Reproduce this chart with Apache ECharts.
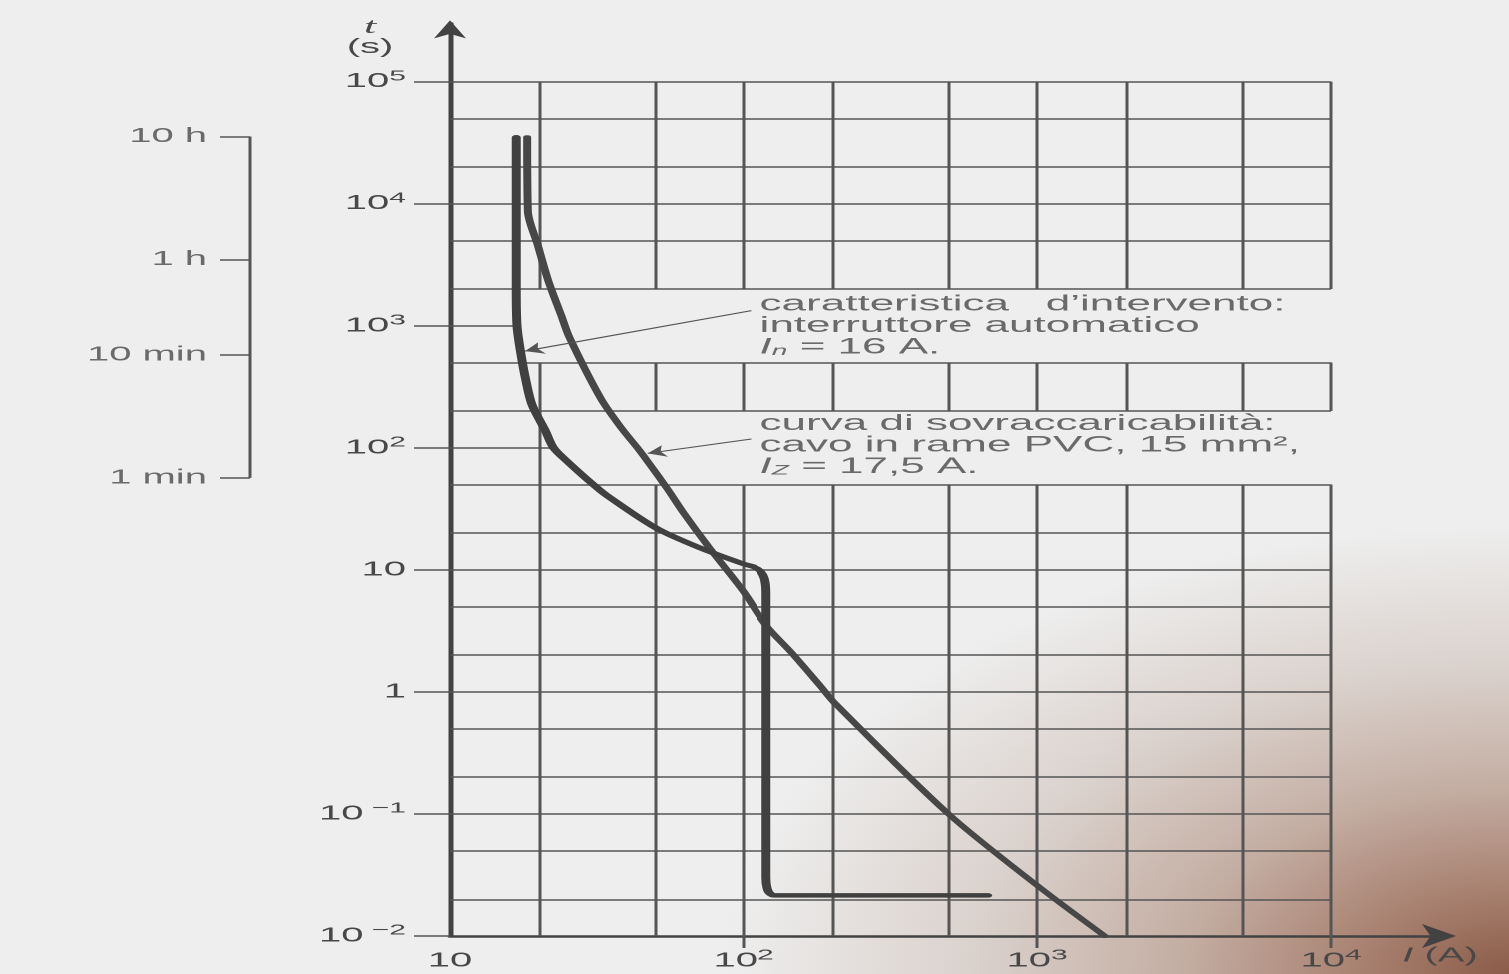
<!DOCTYPE html>
<html>
<head>
<meta charset="utf-8">
<script src="https://cdn.jsdelivr.net/npm/echarts@6/dist/echarts.min.js"></script>
<style>
html, body { margin: 0; padding: 0; width: 1509px; height: 974px; overflow: hidden;
  background: radial-gradient(ellipse 52% 46% at 100% 100%, #8a5c48 0%, #a77f6e 18%, #c4aea3 42%, #dad1cc 68%, rgba(236,236,236,0) 100%), #eeeeee; }
#c { width: 755px; height: 974px; transform: scaleX(1.99868); transform-origin: 0 0; }
</style>
</head>
<body>
<div id="c"></div>
<script>
// ---------- data ----------
const currentTicks = [10, 100, 1000, 10000];
const currentTickLabels = ['10', '10{u|2}', '10{u|3}', '10{u|4}'];
const timeTicks = [0.01, 0.1, 1, 10, 100, 1000, 10000, 100000];
const timeTickLabels = ['10{u| −2}', '10{u| −1}', '1', '10', '10{u|2}', '10{u|3}', '10{u|4}', '10{u|5}'];

const gridCurrents = [20, 50, 100, 200, 500, 1000, 2000, 5000, 10000];
const gridTimes = [0.02, 0.05, 0.1, 0.2, 0.5, 1, 2, 5, 10, 20, 50, 100, 200, 500, 1000, 2000, 5000, 10000, 20000, 50000, 100000];

// caratteristica d'intervento (interruttore automatico In = 16 A)
const breakerCurrent = [16.8, 16.8, 16.9, 17.4, 18.1, 19.0, 21.1, 22.5, 25.4, 30.7, 34, 50.4, 70.5, 99.4, 108, 114, 118, 119.5, 119.5, 120.5, 123, 128, 680];
const breakerTime    = [35000, 2000, 1000, 600, 360, 226, 138, 100, 75, 50, 41, 21.9, 15.2, 11.2, 10.6, 9.8, 8.5, 6.5, 0.03, 0.025, 0.0225, 0.0215, 0.0215];

// curva di sovraccaricabilità (cavo in rame PVC, Iz = 17,5 A)
const cableCurrent = [18.3, 18.4, 19.9, 21.6, 23.9, 25.5, 32.6, 38.3, 43.4, 47.1, 55.3, 61.9, 76.2, 100, 119, 146, 183, 205, 500, 1000, 1700];
const cableTime    = [35000, 8700, 4550, 2330, 1215, 800, 253, 145, 100, 77, 45, 30, 15.2, 6.6, 3.55, 2.1, 1.12, 0.81, 0.1, 0.026, 0.01];

// annotations: text anchors and pointer arrows (tail -> tip), in data units
const noteAnchors = [[113, 1000], [113, 105]];
const pointerTails = [[106, 1330], [106, 118]];
const pointerTips = [[18.0, 620], [47, 90]];

// secondary duration scale
const durationLabels = ['10 h', '1 h', '10 min', '1 min'];
const durationSeconds = [36000, 3600, 600, 60];

// text bands where the printed grid is interrupted
const upperBand = [500, 2000];
const lowerBand = [50, 200];
const upperBandLineEnd = 16.8;  // 1000 s line stops at breaker curve
const lowerBandLineEnd = 22.5;  // 100 s line stops at breaker curve

// ---------- build ----------
const FONT = '"Liberation Sans", Arial, sans-serif';
const INK = '#424242';
const TXT = '#484848';
const GRIDC = '#555555';

function labelFor(values, labels) {
  return function (v) {
    let best = 0;
    const lv = Math.log10(v);
    for (let i = 1; i < values.length; i++) {
      if (Math.abs(Math.log10(values[i]) - lv) < Math.abs(Math.log10(values[best]) - lv)) best = i;
    }
    return labels[best];
  };
}

const gridSegments = [];
gridCurrents.forEach(function (I) {
  const spans = I === 20
    ? [[0.01, upperBand[0]], [upperBand[1], 100000]]
    : [[0.01, lowerBand[0]], [lowerBand[1], upperBand[0]], [upperBand[1], 100000]];
  spans.forEach(function (s) { gridSegments.push({ coords: [[I, s[0]], [I, s[1]]] }); });
});
gridTimes.forEach(function (t) {
  const end = t === 1000 ? upperBandLineEnd : (t === 100 ? lowerBandLineEnd : 10000);
  gridSegments.push({ coords: [[10, t], [end, t]] });
});

const pointerSegments = pointerTails.map(function (tail, i) { return { coords: [tail, pointerTips[i]] }; });

const bracketSegments = [{ coords: [[1, durationSeconds[0]], [1, durationSeconds[durationSeconds.length - 1]]] }]
  .concat(durationSeconds.map(function (s) { return { coords: [[0.5, s], [1, s]] }; }));

const zip = (a, b) => a.map((v, i) => [v, b[i]]);

const noteTexts = [
  'caratteristica   d\u2019intervento:\ninterruttore automatico\n{i|I}{s|n}{p| = 16 A.}',
  'curva di sovraccaricabilità:\ncavo in rame PVC, 15 mm²,\n{i|I}{s|Z}{p| = 17,5 A.}'
];

const supRich = { u: { fontFamily: FONT, fontSize: 15, lineHeight: 14, verticalAlign: 'top', color: TXT } };

const chart = echarts.init(document.getElementById('c'), null, { renderer: 'canvas', devicePixelRatio: 2 });

const Y_TOP = 23.4, Y_BOTTOM = 32;

chart.setOption({
  backgroundColor: 'transparent',
  animation: false,
  textStyle: { fontFamily: FONT, color: TXT },
  grid: [
    { left: 225, right: 30.5, top: Y_TOP, bottom: Y_BOTTOM, containLabel: false },
    { left: 95, width: 30, top: Y_TOP, bottom: Y_BOTTOM, containLabel: false }
  ],
  xAxis: [
    {
      type: 'log', logBase: 10, min: 10, max: 25000, gridIndex: 0,
      name: '{i|I} (A)', nameLocation: 'end', nameGap: -4,
      nameTextStyle: { fontFamily: FONT, fontSize: 20, color: TXT, align: 'center', verticalAlign: 'middle',
        padding: [40, 0, 0, 0], rich: { i: { fontStyle: 'italic', fontSize: 20, fontFamily: FONT, color: TXT } } },
      axisLine: { show: true, lineStyle: { color: INK, width: 2.5 }, symbol: ['none', 'arrow'], symbolSize: [18, 17], symbolOffset: [0, 4] },
      axisTick: { show: true, inside: false, length: 12, lineStyle: { color: GRIDC, width: 1.5 }, customValues: [100, 1000, 10000] },
      axisLabel: { show: true, margin: 12, fontSize: 20, lineHeight: 26, color: TXT, fontFamily: FONT,
        customValues: currentTicks, formatter: labelFor(currentTicks, currentTickLabels), rich: supRich },
      splitLine: { show: false }, minorTick: { show: false }
    },
    { type: 'value', min: 0, max: 1, gridIndex: 1, show: false }
  ],
  yAxis: [
    {
      type: 'log', logBase: 10, min: 0.01, max: 300000, gridIndex: 0,
      name: '{t|t}\n(s)', nameLocation: 'end', nameGap: -14,
      nameTextStyle: { fontFamily: FONT, fontSize: 20, color: TXT, align: 'center', verticalAlign: 'middle',
        lineHeight: 20, padding: [0, 80, 0, 0],
        rich: { t: { fontStyle: 'italic', fontFamily: '"Liberation Serif", serif', fontSize: 22, color: TXT, lineHeight: 20 } } },
      axisLine: { show: true, lineStyle: { color: INK, width: 2.5 }, symbol: ['none', 'arrow'], symbolSize: [12, 18], symbolOffset: [0, 3] },
      axisTick: { show: true, inside: false, length: 18, lineStyle: { color: GRIDC, width: 1.5 }, customValues: timeTicks },
      axisLabel: { show: true, margin: 22, fontSize: 20, lineHeight: 26, color: TXT, fontFamily: FONT,
        customValues: timeTicks, formatter: labelFor(timeTicks, timeTickLabels), rich: supRich },
      splitLine: { show: false }, minorTick: { show: false }
    },
    { type: 'log', logBase: 10, min: 0.01, max: 300000, gridIndex: 1, show: false }
  ],
  series: [
    {
      name: 'griglia', type: 'lines', coordinateSystem: 'cartesian2d', xAxisIndex: 0, yAxisIndex: 0,
      silent: true, z: 1, data: gridSegments,
      lineStyle: { color: GRIDC, width: 1.5, opacity: 1, curveness: 0 }, symbol: ['none', 'none']
    },
    {
      name: 'frecce', type: 'lines', coordinateSystem: 'cartesian2d', xAxisIndex: 0, yAxisIndex: 0,
      silent: true, z: 4, data: pointerSegments,
      lineStyle: { color: '#555', width: 1.1, opacity: 1, curveness: 0 },
      symbol: ['none', 'arrow'], symbolSize: 9
    },
    {
      name: 'curva di sovraccaricabilità', type: 'line', xAxisIndex: 0, yAxisIndex: 0,
      data: zip(cableCurrent, cableTime), showSymbol: false, smooth: 0.3, silent: true, z: 3,
      lineStyle: { color: '#474747', width: 4, cap: 'round', join: 'round' }
    },
    {
      name: 'caratteristica d\u2019intervento', type: 'line', xAxisIndex: 0, yAxisIndex: 0,
      data: zip(breakerCurrent, breakerTime), showSymbol: false, smooth: 0.3, silent: true, z: 3,
      lineStyle: { color: '#404040', width: 4.5, cap: 'round', join: 'round' }
    },
    {
      name: 'note', type: 'scatter', xAxisIndex: 0, yAxisIndex: 0, silent: true, z: 5,
      symbolSize: 1, itemStyle: { color: 'rgba(0,0,0,0)' },
      data: noteAnchors.map(function (p, i) { return { value: p, note: noteTexts[i] }; }),
      label: {
        show: true, position: 'right', distance: 0, align: 'left', verticalAlign: 'middle',
        fontFamily: FONT, fontSize: 22, lineHeight: 21.5, color: TXT,
        formatter: function (p) { return p.data.note; },
        rich: {
          i: { fontStyle: 'italic', fontFamily: FONT, fontSize: 22, lineHeight: 21.5, color: TXT },
          s: { fontStyle: 'italic', fontFamily: FONT, fontSize: 14, lineHeight: 6, verticalAlign: 'bottom', color: TXT },
          p: { fontFamily: FONT, fontSize: 22, lineHeight: 21.5, color: TXT }
        }
      }
    },
    {
      name: 'scala durate', type: 'lines', coordinateSystem: 'cartesian2d', xAxisIndex: 1, yAxisIndex: 1,
      silent: true, z: 2, data: bracketSegments,
      lineStyle: { color: '#555', width: 1.5, opacity: 1, curveness: 0 }, symbol: ['none', 'none']
    },
    {
      name: 'etichette durate', type: 'scatter', xAxisIndex: 1, yAxisIndex: 1, silent: true, z: 2,
      symbolSize: 1, itemStyle: { color: 'rgba(0,0,0,0)' },
      data: durationSeconds.map(function (s, i) { return { value: [0.5, s], name: durationLabels[i] }; }),
      label: { show: true, position: 'left', distance: 6, formatter: '{b}', fontFamily: FONT, fontSize: 20, color: TXT }
    }
  ]
});
</script>
</body>
</html>
